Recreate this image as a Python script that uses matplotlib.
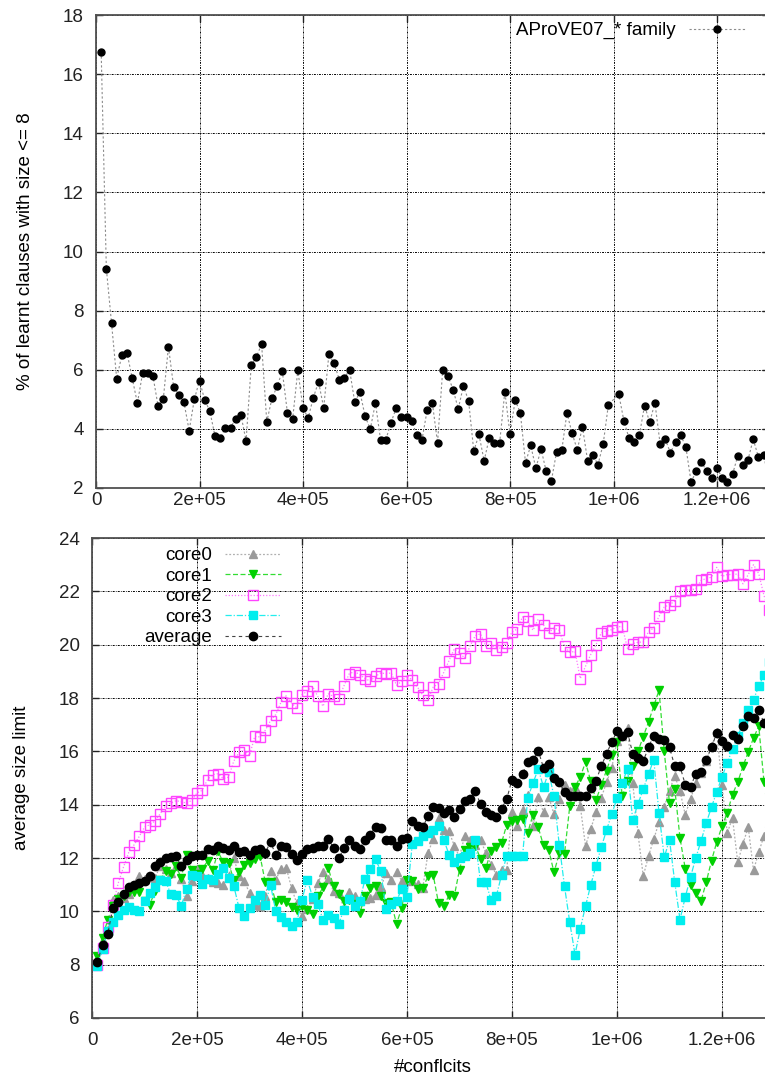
import numpy as np
import matplotlib.pyplot as plt

plt.rcParams['font.family'] = ['Liberation Sans', 'DejaVu Sans']

# ---- data (sample index n -> n * 1e4 conflicts) ----
n_top = list(range(1, 100)) + list(range(101, 131))
aprove = [16.75, 9.42, 7.58, 5.70, 6.50, 6.57, 5.71, 4.87, 5.88, 5.90,
          5.79, 4.77, 5.00, 6.78, 5.42, 5.16, 4.90, 3.94, 5.00, 5.63,
          4.98, 4.60, 3.75, 3.68, 4.04, 4.04, 4.35, 4.48, 3.59, 6.16,
          6.43, 6.87, 4.24, 5.03, 5.44, 5.95, 4.53, 4.34, 5.98, 4.70,
          4.37, 5.06, 5.59, 4.71, 6.52, 6.22, 5.67, 5.72, 6.00, 4.90,
          5.25, 4.43, 3.99, 4.88, 3.61, 3.63, 4.21, 4.70, 4.41, 4.41,
          4.27, 3.79, 3.64, 4.64, 4.87, 3.53, 6.00, 5.80, 5.33, 4.68,
          5.45, 4.95, 3.25, 3.81, 2.92, 3.70, 3.53, 3.53, 5.26, 3.82,
          4.97, 4.54, 2.85, 3.44, 2.67, 3.32, 2.56, 2.25, 3.22, 3.27,
          4.54, 3.85, 3.29, 4.07, 2.92, 3.12, 2.79, 3.48, 4.80,
          5.19, 4.28, 3.68, 3.55, 3.79, 4.79, 4.22, 4.89, 3.50, 3.65,
          3.19, 3.57, 3.79, 3.37, 2.19, 2.59, 2.88, 2.57, 2.34, 2.68,
          2.34, 2.21, 2.46, 3.08, 2.78, 2.96, 3.65, 3.05, 3.13, 2.28]

n_bot = list(range(1, 130))
core0 = [8.20, 8.94, 9.31, 10.44, 10.56, 10.50, 10.66, 10.90, 11.31, 11.20,
         11.30, 11.25, 11.71, 11.59, 11.44, 11.69, 11.21, 10.56, 11.13, 11.59,
         11.38, 11.25, 11.09, 11.06, 11.00, 11.31, 12.00, 11.34, 11.13, 10.69,
         10.25, 10.19, 10.56, 11.50, 11.19, 11.59, 11.63, 10.88, 10.30, 9.81,
         10.09, 10.46, 11.06, 11.46, 11.21, 10.75, 10.69, 10.10, 10.73, 10.58,
         10.38, 10.45, 10.50, 10.62, 10.90, 11.42, 11.16, 11.46, 11.15, 11.16,
         11.12, 11.03, 10.88, 12.19, 12.71, 13.50, 13.04, 13.00, 12.46, 12.04,
         12.84, 12.69, 12.50, 12.69, 12.19, 11.75, 11.38, 11.56, 11.56, 13.74,
         13.19, 13.79, 14.38, 13.19, 14.30, 13.71, 14.29, 13.64, 14.20, 14.75,
         14.50, 14.67, 13.96, 12.45, 13.09, 13.71, 14.25, 14.84, 15.38, 16.38,
         16.59, 16.88, 14.81, 12.92, 11.32, 12.07, 12.71, 13.34, 13.92, 14.53,
         15.09, 14.50, 13.63, 14.21, 14.81, 15.20, 15.65, 16.19, 16.71, 14.75,
         12.94, 13.50, 11.84, 12.54, 13.16, 11.54, 12.21, 12.84, 13.30]
core1 = [8.32, 9.00, 9.69, 10.19, 10.46, 10.59, 10.71, 10.71, 10.71, 10.38,
         10.25, 10.75, 11.19, 11.50, 11.40, 11.71, 11.25, 12.13, 11.56, 11.41,
         11.59, 11.88, 11.54, 12.25, 11.84, 11.81, 11.19, 11.46, 11.73, 11.81,
         11.95, 12.09, 11.09, 11.09, 10.34, 10.44, 10.34, 10.16, 10.06, 10.19,
         10.06, 9.91, 10.56, 10.90, 11.63, 10.94, 10.66, 10.38, 10.44, 10.29,
         9.94, 10.56, 10.88, 10.94, 10.59, 10.31, 10.34, 9.53, 10.13, 11.19,
         11.13, 10.84, 10.88, 11.31, 11.35, 10.31, 10.20, 10.60, 10.57, 11.56,
         12.31, 12.41, 12.46, 11.98, 11.61, 12.27, 12.41, 12.56, 13.25, 13.38,
         13.44, 13.45, 12.95, 13.63, 13.15, 12.47, 12.30, 11.46, 12.17, 12.16,
         13.94, 14.66, 15.04, 15.59, 14.88, 14.17, 14.73, 15.28, 15.85, 16.34,
         14.31, 14.90, 15.45, 16.00, 16.55, 17.10, 17.70, 18.29, 16.00, 14.05,
         14.60, 12.75, 11.60, 11.00, 10.70, 10.38, 11.10, 11.90, 12.60, 13.19,
         13.69, 14.38, 14.85, 15.44, 15.98, 16.50, 16.94, 14.86, 14.30]
core2 = [8.00, 8.63, 9.40, 10.25, 11.06, 11.66, 12.21, 12.49, 12.81, 13.16,
         13.25, 13.39, 13.66, 13.96, 14.06, 14.15, 14.11, 14.06, 14.16, 14.44,
         14.54, 14.94, 15.13, 15.16, 14.98, 15.03, 15.63, 15.96, 16.06, 15.84,
         16.56, 16.54, 16.79, 17.15, 17.38, 17.84, 18.09, 17.81, 17.63, 18.13,
         18.25, 18.44, 18.06, 17.69, 18.16, 18.06, 17.98, 18.46, 18.91, 18.99,
         18.88, 18.73, 18.63, 18.81, 18.94, 18.91, 18.94, 18.48, 18.63, 18.85,
         18.66, 18.41, 18.10, 17.94, 18.41, 18.54, 18.96, 19.40, 19.84, 19.69,
         19.50, 19.94, 20.34, 20.41, 19.94, 20.06, 19.79, 19.91, 20.06, 20.48,
         20.59, 21.04, 20.88, 20.54, 20.96, 20.74, 20.44, 20.63, 20.54, 19.94,
         19.71, 19.75, 18.73, 19.19, 19.63, 20.00, 20.44, 20.53, 20.56, 20.66,
         20.69, 19.85, 20.04, 20.09, 20.10, 20.49, 20.63, 21.06, 21.41, 21.50,
         21.63, 22.00, 22.06, 22.06, 22.09, 22.41, 22.48, 22.53, 22.90, 22.56,
         22.63, 22.63, 22.65, 22.28, 22.63, 23.00, 22.66, 21.84, 21.30]
core3 = [7.94, 8.60, 9.25, 9.59, 9.88, 10.05, 10.15, 10.05, 10.02, 10.38,
         10.69, 10.91, 11.19, 11.15, 10.65, 10.63, 10.19, 10.85, 11.38, 11.34,
         11.03, 11.21, 11.19, 11.41, 11.63, 11.25, 10.96, 10.13, 9.84, 10.13,
         10.44, 10.63, 10.25, 11.00, 10.00, 9.79, 9.59, 9.44, 9.60, 10.44,
         11.19, 10.55, 10.27, 9.69, 9.86, 9.75, 9.54, 10.06, 10.46, 10.21,
         10.38, 11.20, 11.58, 11.95, 11.52, 10.09, 10.27, 10.38, 10.85, 10.55,
         12.52, 12.63, 12.81, 12.94, 13.06, 13.19, 12.69, 12.13, 11.84, 12.00,
         12.09, 12.19, 12.69, 11.09, 11.09, 10.44, 10.56, 11.35, 12.09, 12.09,
         12.06, 12.06, 14.25, 14.81, 15.34, 14.66, 15.22, 14.31, 12.50, 10.94,
         9.59, 8.38, 9.34, 10.19, 10.99, 11.71, 12.40, 13.04, 13.65, 14.24,
         14.82, 15.35, 13.42, 14.03, 14.58, 15.15, 15.68, 13.70, 12.02, 12.69,
         11.09, 9.69, 10.53, 11.28, 12.00, 12.63, 13.31, 13.91, 14.48, 15.04,
         15.56, 16.09, 16.56, 17.06, 17.54, 17.94, 18.44, 18.88, 19.35]
average = [8.09, 8.73, 9.16, 10.13, 10.35, 10.66, 10.90, 10.99, 11.06, 11.13,
           11.31, 11.69, 11.86, 12.00, 12.03, 12.06, 11.69, 11.91, 12.09, 12.10,
           12.13, 12.35, 12.31, 12.46, 12.38, 12.31, 12.44, 12.23, 12.28, 12.10,
           12.31, 12.35, 12.19, 12.61, 12.11, 12.44, 12.41, 12.15, 11.91, 12.15,
           12.35, 12.38, 12.44, 12.46, 12.71, 12.38, 12.00, 12.36, 12.66, 12.46,
           12.34, 12.69, 12.88, 13.16, 13.13, 12.66, 12.66, 12.44, 12.73, 12.75,
           13.38, 13.21, 13.16, 13.56, 13.90, 13.88, 13.69, 13.79, 13.54, 13.85,
           14.15, 14.21, 14.50, 14.03, 13.71, 13.63, 13.54, 13.84, 14.21, 14.94,
           14.81, 15.16, 15.59, 15.66, 16.03, 15.38, 15.54, 15.00, 14.85, 14.46,
           14.34, 14.34, 14.34, 14.34, 14.63, 14.90, 15.44, 15.91, 16.35, 16.75,
           16.59, 16.73, 15.91, 15.75, 15.63, 16.15, 16.59, 16.46, 16.41, 16.15,
           15.44, 15.44, 14.75, 14.66, 15.16, 15.21, 15.69, 16.15, 16.69, 16.38,
           16.21, 16.63, 16.48, 16.94, 17.31, 17.25, 17.56, 17.06, 17.10]

xticks = [0, 2e5, 4e5, 6e5, 8e5, 1e6, 1.2e6]
xtick_labels = ['0', '2e+05', '4e+05', '6e+05', '8e+05', '1e+06', '1.2e+06']

x_top = np.array(n_top) * 1e4
x_bot = np.array(n_bot) * 1e4

W, H = 765, 1079
fig = plt.figure(figsize=(W / 100, H / 100), dpi=100)

# axes placed in pixel terms; the right edge runs just past the image
ax_top = fig.add_axes([96 / W, 1 - 488 / H, 672.75 / W, 473 / H])
ax_bot = fig.add_axes([92 / W, 1 - 1018 / H, 682.5 / W, 480 / H])

grid_ls = (0, (2.0, 1.2, 0.8, 1.2))
for ax in (ax_top, ax_bot):
    ax.set_xlim(0, 1.3e6)
    ax.set_xticks(xticks)
    ax.set_xticklabels(xtick_labels)
    ax.grid(True, color='black', linestyle=grid_ls, linewidth=0.7)
    ax.set_axisbelow(True)
    ax.tick_params(direction='in', length=5, width=1, top=True, right=True,
                   labelsize=13.5, colors='#222222')
    ax.tick_params(axis='y', pad=9)
    for s in ax.spines.values():
        s.set_color('#505050')
        s.set_linewidth(1.3)
    ax.spines['right'].set_visible(False)

# top panel
ax_top.plot(x_top, aprove, color='#8c8c8c', linestyle=(0, (2, 2)), linewidth=0.8,
            marker='o', markersize=5, mfc='black', mec='black',
            label='AProVE07_* family')
ax_top.set_ylim(2, 18)
ax_top.set_yticks(np.arange(2, 19, 2))
ax_top.tick_params(axis='x', pad=3)
ax_top.set_ylabel('% of learnt clauses with size <= 8', fontsize=13.5, va='center')
ax_top.yaxis.set_label_coords(-0.105, 0.5)
ax_top.legend(loc='upper right', bbox_to_anchor=(745 / W, 1 - 22 / H),
              bbox_transform=fig.transFigure, frameon=False, markerfirst=False,
              numpoints=1, handlelength=3.0, handletextpad=0.7,
              borderpad=0, borderaxespad=0, fontsize=13.5)

# bottom panel
ax_bot.plot(x_bot, core0, color='#b0b0b0', linestyle=(0, (1.5, 1.5)), linewidth=0.9,
            marker='^', markersize=5.5, mfc='#9a9a9a', mec='#9a9a9a', label='core0')
ax_bot.plot(x_bot, core1, color='#33dd33', linestyle=(0, (4, 2)), linewidth=0.9,
            marker='v', markersize=5.5, mfc='#00d000', mec='#00d000', label='core1')
ax_bot.plot(x_bot, core2, color='#ff77ff', linestyle=(0, (1, 1.5)), linewidth=0.9,
            marker='s', markersize=6.5, mfc='none', mec='#ff44ff', mew=1.0, label='core2')
ax_bot.plot(x_bot, core3, color='#22eeee', linestyle=(0, (5, 1.5, 1, 1.5)), linewidth=0.9,
            marker='s', markersize=6, mfc='#00eeee', mec='#00eeee', label='core3')
ax_bot.plot(x_bot, average, color='#444444', linestyle=(0, (3, 3)), linewidth=0.8,
            marker='o', markersize=6, mfc='black', mec='black', label='average')
ax_bot.set_ylim(6, 24)
ax_bot.set_yticks(np.arange(6, 25, 2))
ax_bot.tick_params(axis='x', pad=10)
ax_bot.set_ylabel('average size limit', fontsize=13.5, va='center')
ax_bot.yaxis.set_label_coords(-0.1026, 0.5)
ax_bot.set_xlabel('#conflcits', fontsize=13.5, va='center')
ax_bot.xaxis.set_label_coords(0.5, -0.104)
ax_bot.legend(loc='upper right', bbox_to_anchor=(281 / W, 1 - 547 / H),
              bbox_transform=fig.transFigure, frameon=False, markerfirst=False,
              numpoints=1, handlelength=3.0, handletextpad=0.7, labelspacing=0.18,
              borderpad=0, borderaxespad=0, fontsize=13.5)

fig.savefig('out.png', dpi=100)
